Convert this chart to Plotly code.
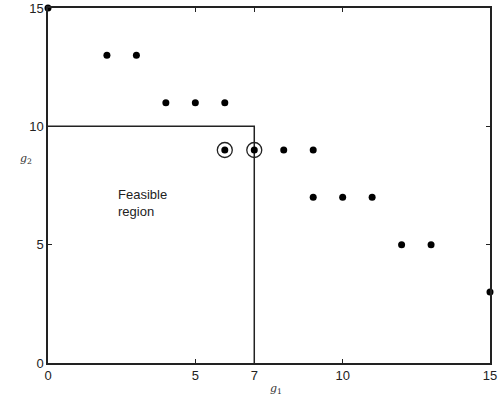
import plotly.graph_objects as go

g1_pts = [0, 2, 3, 4, 5, 6, 6, 7, 8, 9, 9, 10, 11, 12, 13, 15]
g2_pts = [15, 13, 13, 11, 11, 11, 9, 9, 9, 9, 7, 7, 7, 5, 5, 3]
circled_g1 = [6, 7]
circled_g2 = [9, 9]
region_g1 = [0, 7, 7]
region_g2 = [10, 10, 0]
x_ticks = [0, 5, 7, 10, 15]
y_ticks = [0, 5, 10, 15]

fig = go.Figure()
fig.add_trace(go.Scatter(x=region_g1, y=region_g2, mode="lines",
                         line=dict(color="#222", width=1.5), cliponaxis=False,
                         hoverinfo="skip"))
fig.add_trace(go.Scatter(x=g1_pts, y=g2_pts, mode="markers",
                         marker=dict(color="black", size=7), cliponaxis=False))
fig.add_trace(go.Scatter(x=circled_g1, y=circled_g2, mode="markers",
                         marker=dict(color="rgba(0,0,0,0)", size=15,
                                     line=dict(color="#222", width=1.3)),
                         cliponaxis=False))

fig.add_annotation(x=2.3, y=6.75, text="Feasible<br>region", showarrow=False,
                   xanchor="left", align="left",
                   font=dict(family="Liberation Sans, Arial", size=13, color="#222"))
fig.add_annotation(x=7.75, y=0, yshift=-17, text="<i>g</i><sub>1</sub>", showarrow=False,
                   yanchor="top",
                   font=dict(family="DejaVu Serif, serif", size=11, color="#333"))
fig.add_annotation(xref="paper", x=0, xshift=-30, y=8.6, text="<i>g</i><sub>2</sub>",
                   showarrow=False,
                   font=dict(family="DejaVu Serif, serif", size=11, color="#333"))

axis_common = dict(showgrid=False, zeroline=False, showline=True, linecolor="#222",
                   linewidth=1.5, mirror="ticks", ticks="inside", ticklen=4,
                   tickcolor="#222", ticklabeloverflow="allow", automargin=False,
                   tickfont=dict(family="Liberation Sans, Arial", size=13, color="#222"))
fig.update_xaxes(range=[0, 15], tickvals=x_ticks, ticktext=[str(v) for v in x_ticks],
                 **axis_common)
fig.update_yaxes(range=[0, 15], tickvals=y_ticks, ticktext=[str(v) for v in y_ticks],
                 **axis_common)
fig.update_layout(width=499, height=396, showlegend=False,
                  margin=dict(l=48, r=9, t=8, b=33),
                  plot_bgcolor="white", paper_bgcolor="white")
fig.write_html("out.html")
